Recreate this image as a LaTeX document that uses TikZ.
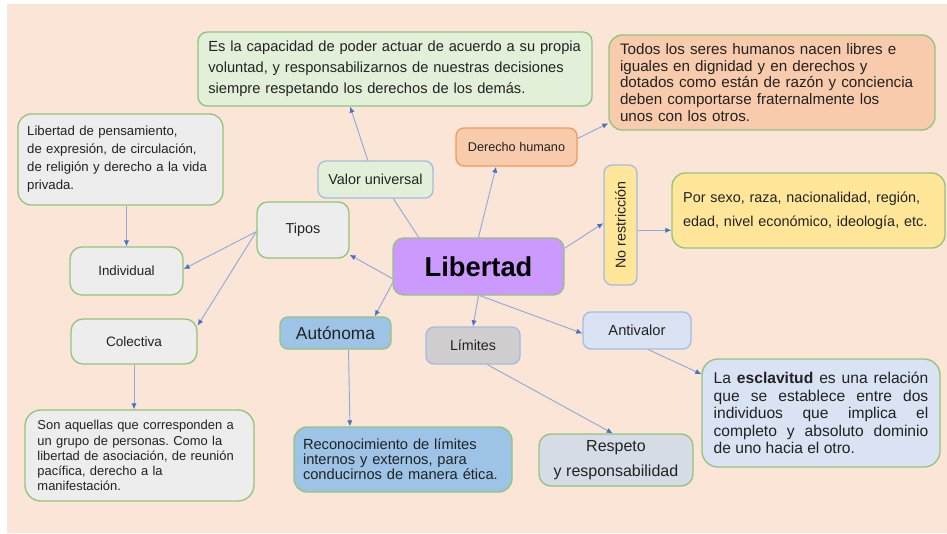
\documentclass[tikz,border=0pt]{standalone}
\usepackage{fontspec}
\setmainfont{Liberation Sans}
\usepackage{graphicx}
\usetikzlibrary{arrows.meta}

\definecolor{peach}{HTML}{FBE5D6}
\definecolor{bordergreen}{HTML}{93C47D}
\definecolor{borderblue}{HTML}{A3BCE3}
\definecolor{borderorange}{HTML}{EF9A5E}
\definecolor{fillgreen}{HTML}{E2F0D9}
\definecolor{fillorange}{HTML}{F8CBAD}
\definecolor{fillgray}{HTML}{EDEDED}
\definecolor{fillpurple}{HTML}{CC99FF}
\definecolor{fillyellow}{HTML}{FFE699}
\definecolor{fillblue}{HTML}{9DC3E6}
\definecolor{filllight}{HTML}{DAE3F3}
\definecolor{fillstone}{HTML}{D0CECE}
\definecolor{fillslate}{HTML}{D6DCE5}
\definecolor{textdark}{HTML}{222222}
\definecolor{linkblue}{HTML}{8FAADC}
\definecolor{tipblue}{HTML}{4472C4}

\newcommand{\fsz}[2]{\fontsize{#1}{#2}\selectfont}
\frenchspacing

\tikzset{
  cbox/.style={draw=bordergreen, line width=1pt, rounded corners=7pt, inner sep=2pt, text=textdark, align=center},
  boxsize/.style 2 args={minimum width=#1*0.75pt, minimum height=#2*0.75pt},
  conn/.style={draw=linkblue, line width=0.7pt, -{Latex[length=4.5pt,width=4pt,color=tipblue]}},
  connplain/.style={draw=linkblue, line width=0.7pt}
}

\begin{document}
\begin{tikzpicture}[x=0.75pt,y=0.75pt,yscale=-1,xscale=1]
\path[use as bounding box] (0,0) rectangle (947,533);
\fill[white] (0,0) rectangle (947,533);
\fill[peach] (7,4) rectangle (947,533);

% Text Node
\node[cbox, fill=fillgreen, boxsize={394}{74}, text width=280pt, align=left, font={\fsz{11}{15.75}}] (def) at (395,69)
  {Es la capacidad de poder actuar de acuerdo a su propia\\voluntad, y responsabilizarnos de nuestras decisiones\\siempre respetando los derechos de los demás.};
% Text Node
\node[cbox, fill=fillorange, rounded corners=10pt, boxsize={326}{95}, text width=228pt, align=left, font={\fsz{11.4}{12.4}}] (orange) at (772,82.5)
  {Todos los seres humanos nacen libres e\\iguales en dignidad y en derechos y\\dotados como están de razón y conciencia\\deben comportarse fraternalmente los\\unos con los otros.};
% Text Node
\node[cbox, fill=fillgray, rounded corners=10pt, boxsize={205}{91}, text width=140pt, align=left, font={\fsz{9.9}{13.5}}] (pens) at (120.5,159.5)
  {Libertad de pensamiento,\\de expresión, de circulación,\\de religión y derecho a la vida\\privada.};
% Text Node
\node[cbox, draw=borderorange, fill=fillorange, rounded corners=6pt, boxsize={121}{38}, font={\fsz{9.5}{11}}] (derecho) at (516.5,147) {Derecho humano};
% Text Node
\node[cbox, draw=borderblue, fill=fillgreen, rounded corners=6pt, boxsize={115}{37}, font={\fsz{10.8}{13}}] (valor) at (375.5,179.5) {Valor universal};
% Text Node
\node[cbox, fill=fillgray, rounded corners=8pt, boxsize={92}{56}, font={\fsz{10.8}{13}}] (tipos) at (303,230) {Tipos};
% Text Node
\node[cbox, fill=fillpurple, rounded corners=8pt, boxsize={171}{57}, font={\fsz{20.5}{24}\bfseries}, text=black] (libertad) at (478.5,266.5) {Libertad};
% Text Node
\node[cbox, draw=borderblue, fill=fillyellow, rounded corners=6pt, boxsize={33}{120}, font={\fsz{10.7}{13}}] (norest) at (620.5,225) {\rotatebox{90}{No restricción}};
% Text Node
\node[cbox, fill=fillyellow, rounded corners=10pt, boxsize={273}{75}, text width=188pt, align=left, font={\fsz{10.8}{18}}] (sexo) at (808.5,210.5)
  {Por sexo, raza, nacionalidad, región,\\edad, nivel económico, ideología, etc.};
% Text Node
\node[cbox, fill=fillgray, rounded corners=9pt, boxsize={113}{48}, font={\fsz{10}{12}}] (indiv) at (126.5,271) {Individual};
% Text Node
\node[cbox, fill=fillgray, rounded corners=9pt, boxsize={126}{45}, font={\fsz{10.2}{12}}] (colec) at (134,341.5) {Colectiva};
% Text Node
\node[cbox, fill=fillblue, rounded corners=6pt, boxsize={111}{32}, font={\fsz{13}{15}}] (auto) at (335.5,333) {Autónoma};
% Text Node
\node[cbox, draw=borderblue, fill=fillstone, rounded corners=6pt, boxsize={94}{37}, font={\fsz{10.7}{13}}] (limites) at (473,345.5) {Límites};
% Text Node
\node[cbox, draw=borderblue, fill=filllight, rounded corners=6pt, boxsize={108}{37}, font={\fsz{11}{13}}] (antiv) at (637,330.5) {Antivalor};
% Text Node
\node[cbox, fill=filllight, rounded corners=12pt, boxsize={238}{108}, text width=161pt, align=justify, font={\fsz{11.7}{13.1}}] (escl) at (821,413)
  {La \textbf{esclavitud} es una relación\linebreak que se establece entre dos\linebreak individuos que implica el\linebreak completo y absoluto dominio\linebreak de uno hacia el otro.};
% Text Node
\node[cbox, fill=fillgray, rounded corners=12pt, boxsize={229}{91}, text width=153pt, align=left, font={\fsz{9.7}{11.3}}] (son) at (139.5,455.5)
  {Son aquellas que corresponden a\\un grupo de personas. Como la\\libertad de asociación, de reunión\\pacífica, derecho a la\\manifestación.};
% Text Node
\node[cbox, fill=fillblue, rounded corners=10pt, boxsize={218}{65}, text width=150pt, align=left, font={\fsz{11}{11.3}}] (recon) at (403,459.5)
  {Reconocimiento de límites\\internos y externos, para\\conducirnos de manera ética.};
% Text Node
\node[cbox, fill=fillslate, rounded corners=9pt, boxsize={154}{52}, font={\fsz{12}{18.75}}] (resp) at (616,460) {Respeto\\y responsabilidad};

%Straight Lines
\draw[connplain] (libertad.154) -- (valor.-47);
\draw[conn] (valor.112) -- (def.-140);
\draw[conn] (libertad.north) -- (derecho.-136);
\draw[conn] (derecho.8) -- (orange.-166);
\draw[conn] (libertad.12) -- (norest.174);
\draw[conn] (norest.-17) -- (norest.-17 -| sexo.west);
\draw[conn] (libertad.-172) -- (tipos.-28);
\draw[conn] (tipos.-178) -- (indiv.2);
\draw[conn] (tipos.-178) -- (colec.14);
\draw[conn] (indiv.north |- pens.south) -- (indiv.north);
\draw[conn] (colec.south) -- (colec.south |- son.north);
\draw[conn] (libertad.-169) -- (auto.23);
\draw[conn] (libertad.south) -- (limites.north);
\draw[conn] (libertad.-87) -- (antiv.-177);
\draw[conn] (antiv.-59) -- (escl.162);
\draw[conn] (auto.-52) -- (recon.148);
\draw[conn] (limites.-53) -- (resp.97);

\end{tikzpicture}
\end{document}
